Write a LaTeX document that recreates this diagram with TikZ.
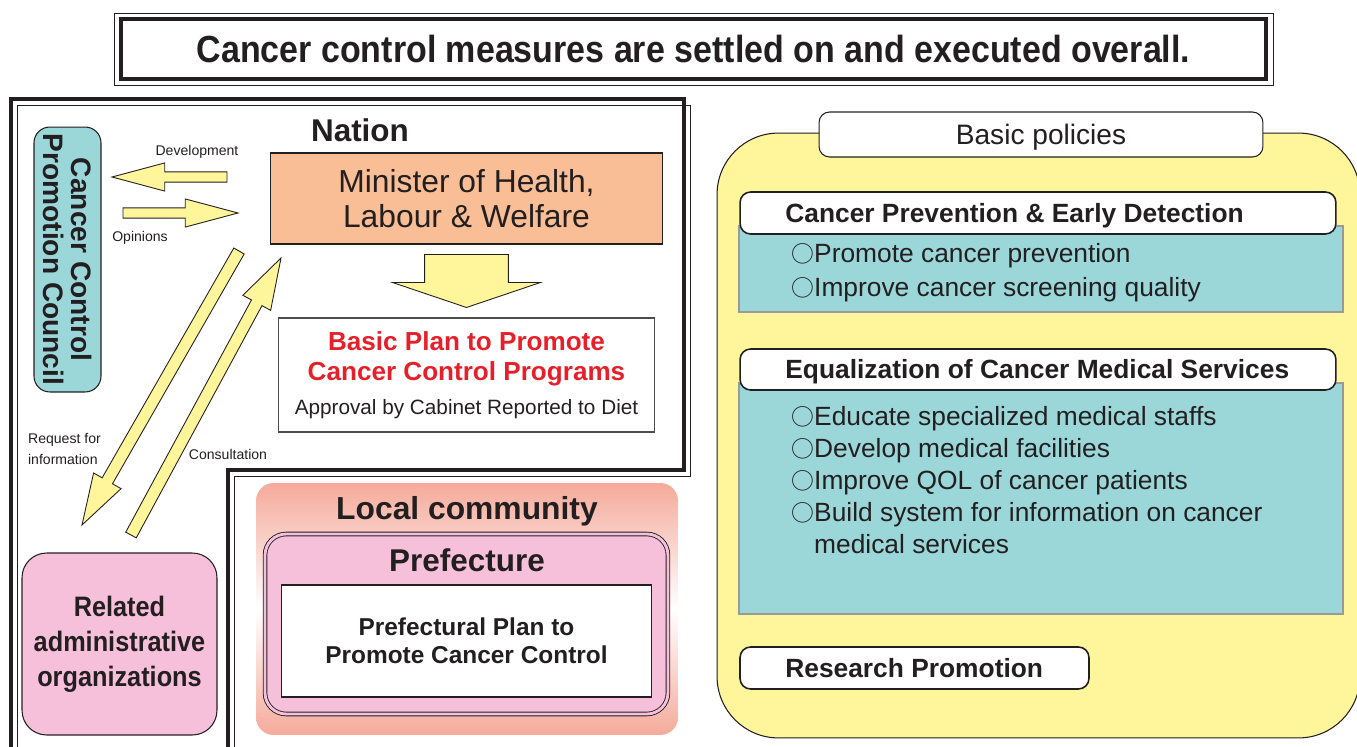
\documentclass[tikz,border=0pt]{standalone}
\usepackage{fontspec}
\setmainfont{Liberation Sans}
\newfontfamily\condfont[FakeStretch=0.9]{Liberation Sans}
\newfontfamily\cjkfont{Noto Sans CJK JP}
\usetikzlibrary{calc,positioning}

\definecolor{ink}{HTML}{231F20}
\definecolor{councilteal}{HTML}{9BD6D9}
\definecolor{ministerorange}{HTML}{F9BE96}
\definecolor{paleyellow}{HTML}{FFF59B}
\definecolor{orgpink}{HTML}{F6C0DA}
\definecolor{salmon}{HTML}{F5AA9B}
\definecolor{planred}{HTML}{E6202A}
\definecolor{edgegray}{HTML}{9A9A9A}

\newcommand{\fsz}[2]{\fontsize{#1}{#2}\selectfont}
\newcommand{\bullt}{{\cjkfont\fontsize{13}{13}\selectfont ○}}
% name, tail, tip, shaft half width, head half width, head length
\newcommand{\blockarrow}[6]{%
  \coordinate (#1base) at ($(#3)!#6!(#2)$);
  \draw[arrowbody] ($(#2)!#4!90:(#3)$) -- ($(#1base)!#4!90:(#3)$)
    -- ($(#1base)!#5!90:(#3)$) -- (#3) -- ($(#1base)!#5!-90:(#3)$)
    -- ($(#1base)!#4!-90:(#3)$) -- ($(#2)!#4!-90:(#3)$) -- cycle;
}

\begin{document}
\begin{tikzpicture}[x=0.02cm, y=-0.02cm,
    every node/.style={text=ink},
    box/.style={draw=ink, line width=0.6pt, inner sep=0pt},
    tag/.style={box, fill=white, rounded corners=6pt, line width=0.9pt},
    panel/.style={draw=edgegray, line width=1pt, fill=councilteal, inner sep=0pt},
    note/.style={font=\fsz{8}{12}, inner sep=1pt},
    arrowbody/.style={draw=ink, line width=0.5pt, fill=paleyellow, line join=miter},
    heading/.style={font=\bfseries\fsz{15}{18}, anchor=base west, inner sep=0pt},
    item/.style={font=\fsz{15}{18.1}, anchor=west, align=left, inner sep=0pt}]
\useasboundingbox (0,0) rectangle (1357,747);
\clip (0,0) rectangle (1357,747);

% headline
\draw[ink, line width=0.5pt] (114,13) rectangle (1273,85);
\node[draw=ink, line width=2.3pt, minimum width=22.9cm, minimum height=1.2cm,
  font=\condfont\bfseries\fsz{21.5}{25}] (headline) at (693.5,49)
  {Cancer control measures are settled on and executed overall.};

% nation frame
\draw[ink, line width=2.3pt] (11,747) -- (11,99) -- (684,99) -- (684,470) -- (228,470) -- (228,747);
\draw[ink, line width=0.5pt] (17,747) -- (17,105) -- (690,105) -- (690,476) -- (234,476) -- (234,747);

\node[box, fill=councilteal, rounded corners=9pt, rotate=-90, minimum width=5.3cm,
  minimum height=1.34cm, align=center, font=\bfseries\fsz{16}{16}] (council) at (67.5,259.5)
  {Cancer Control\\Promotion Council};

\node[font=\bfseries\fsz{17.9}{21}] (nation) at (360,130) {Nation};
\node[box, fill=ministerorange, minimum width=7.86cm, minimum height=1.82cm, align=center,
  font=\fsz{18.1}{19.8}] (minister) at (466.5,198.5) {Minister of Health,\\Labour \& Welfare};
\node[box, draw=ink!80, minimum width=7.54cm, minimum height=2.28cm] (plan) at (466.5,375) {};
\node[font=\bfseries\fsz{14.85}{17}, text=planred, align=center] (plantitle) at (466.5,359)
  {Basic Plan to Promote\\Cancer Control Programs};
\node[font=\fsz{11.8}{14}] (plannote) at (466.5,409) {Approval by Cabinet Reported to Diet};

\node[box, fill=orgpink, rounded corners=14pt, minimum width=3.9cm, minimum height=3.64cm,
  align=center, font=\condfont\bfseries\fsz{16}{20}] (related) at (119.5,644)
  {Related\\administrative\\organizations};

% arrows
\coordinate (devtail) at (227,177);
\coordinate (devtip) at (112,177);
\blockarrow{dev}{devtail}{devtip}{2.9pt}{8pt}{30pt}
\coordinate (opntail) at (123,213);
\coordinate (opntip) at (238,213);
\blockarrow{opn}{opntail}{opntip}{2.9pt}{8pt}{30pt}
\coordinate (reqtail) at (239,251);
\coordinate (reqtip) at (82,525);
\blockarrow{req}{reqtail}{reqtip}{3.4pt}{9pt}{29pt}
\coordinate (contail) at (131,535);
\coordinate (contip) at (281,258);
\blockarrow{con}{contail}{contip}{3.4pt}{9pt}{29pt}
\coordinate (plantail) at ($(minister.south)+(0,10)$);
\coordinate (plantip) at ($(plan.north)+(0,-10)$);
\blockarrow{pln}{plantail}{plantip}{23.8pt}{42pt}{14.2pt}

\node[note] (devlabel) at (197,152) {Development};
\node[note] (opnlabel) at (140,238) {Opinions};
\node[note, align=left, anchor=west] (reqlabel) at (26,449) {Request for\\information};
\node[note] (conlabel) at (228,454) {Consultation};

% local community
\node[rounded corners=10pt, top color=salmon, bottom color=salmon, middle color=white,
  minimum width=8.44cm, minimum height=5.04cm] (local) at (467,609) {};
\node[font=\bfseries\fsz{18.1}{21}] (localtitle) at (467,511) {Local community};
\node[draw=ink, line width=0.5pt, double=orgpink, double distance=1.6pt, fill=orgpink,
  rounded corners=12pt, minimum width=8.06cm, minimum height=3.6cm] (prefecture) at (466.5,624) {};
\node[font=\bfseries\fsz{17.9}{21}] (preftitle) at (467,560) {Prefecture};
\node[box, fill=white, minimum width=7.42cm, minimum height=2.24cm, align=center,
  font=\bfseries\fsz{13.9}{15.9}] (prefplan) at (466.5,641) {Prefectural Plan to\\Promote Cancer Control};

% basic policies
\node[draw=ink, line width=0.6pt, fill=paleyellow, rounded corners=35pt,
  minimum width=12.86cm, minimum height=12.1cm] (policies) at (1038.5,435.5) {};
\node[tag, line width=0.6pt, minimum width=8.88cm, minimum height=0.9cm, text depth=0pt,
  font=\fsz{16}{19}] (policytab) at (1041,134.5) {Basic policies};

\node[panel, minimum width=12.08cm, minimum height=1.72cm] (prevpanel) at (1041,269) {};
\node[tag, minimum width=11.92cm, minimum height=0.84cm] (prevhead) at (1038,213) {};
\node[heading] (prevtitle) at (785,222) {Cancer Prevention \& Early Detection};
\node[item, font=\fsz{15}{19.3}] (previtems) at (791,273)
  {\bullt Promote cancer prevention\\\bullt Improve cancer screening quality};

\node[panel, minimum width=12.08cm, minimum height=4.62cm] (equalpanel) at (1041,498.5) {};
\node[tag, minimum width=11.92cm, minimum height=0.82cm] (equalhead) at (1038,369.5) {};
\node[heading] (equaltitle) at (785,378.5) {Equalization of Cancer Medical Services};
\node[item] (equalitems) at (791,480)
  {\bullt Educate specialized medical staffs\\\bullt Develop medical facilities\\
   \bullt Improve QOL of cancer patients\\\bullt Build system for information on cancer\\
   \hphantom{\bullt}medical services};

\node[tag, minimum width=6.98cm, minimum height=0.84cm] (researchhead) at (914.5,668) {};
\node[heading] (researchtitle) at (785,677) {Research Promotion};
\end{tikzpicture}
\end{document}
